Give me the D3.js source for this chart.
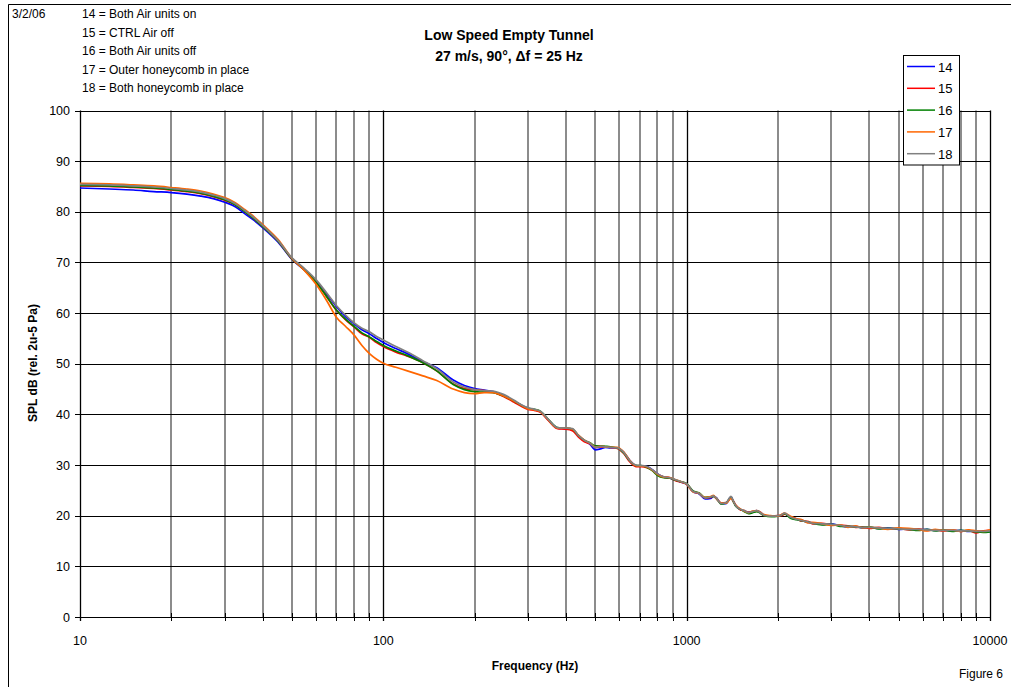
<!DOCTYPE html>
<html><head><meta charset="utf-8">
<script src="https://cdn.jsdelivr.net/npm/d3@7"></script>
<style>body{margin:0;background:#fff}svg{display:block;font-family:Arial,"Liberation Sans",sans-serif}</style>
</head><body><svg id="c" width="1011" height="687"></svg>
<script>
const freq = [10,12.5,15,17.5,20,22.5,25,27.5,30,32.5,35,37.5,40,45,50,55,60,65,70,75,80,85,90,95,100,110,120,135,150,170,185,200,215,230,250,270,285,300,315,330,350,375,400,420,440,460,480,500,520,540,560,590,620,650,680,710,740,770,800,840,880,920,960,1000,1050,1100,1150,1200,1225,1250,1300,1350,1400,1425,1450,1500,1550,1600,1650,1700,1750,1800,1900,2000,2050,2100,2200,2300,2400,2500,2600,2800,3000,3200,3400,3600,3800,4000,4300,4600,5000,5400,5800,6200,6600,7000,7500,8000,8500,9000,9500,10000];
const s14 = [84.7,84.5,84.3,84.0,83.8,83.5,83.1,82.6,81.9,81.0,79.6,78.3,76.9,74.0,70.6,68.5,66.3,63.8,61.3,59.3,57.9,56.7,55.9,55.0,54.2,53.0,52.0,50.4,49.2,46.8,45.7,45.1,44.8,44.5,43.7,42.6,41.8,41.2,40.9,40.5,38.9,37.3,37.2,37.0,35.8,34.8,34.1,33.0,33.2,33.5,33.4,33.4,32.5,30.9,29.9,29.8,29.7,29.1,28.3,27.6,27.4,27.0,26.6,26.2,24.7,24.3,23.3,23.4,23.8,23.6,22.4,22.4,23.7,22.9,22.0,21.3,20.9,20.7,20.8,21.0,20.7,20.1,19.9,19.9,20.1,20.4,19.7,19.3,19.1,18.7,18.6,18.3,18.4,18.0,17.8,17.9,17.6,17.7,17.5,17.6,17.3,17.4,17.2,17.3,17.1,17.2,17.0,17.1,16.9,17.0,16.8,16.9];
const s15 = [85.1,85.0,84.8,84.6,84.3,84.0,83.6,83.0,82.3,81.4,80.0,78.6,77.1,74.2,70.7,68.5,66.1,63.3,60.6,58.7,57.3,55.9,55.2,54.2,53.4,52.3,51.5,50.2,48.6,46.0,45.1,44.9,44.7,44.4,43.5,42.4,41.6,41.0,40.8,40.4,38.8,37.2,37.1,36.8,35.5,34.6,34.2,33.5,33.6,33.6,33.5,33.3,32.3,30.6,29.7,29.7,29.5,29.0,28.2,27.7,27.5,26.9,26.6,26.3,24.8,24.4,23.5,23.6,23.9,23.4,22.5,22.6,23.5,22.8,22.1,21.2,21.0,20.6,20.7,20.9,20.6,20.0,19.9,20.0,20.0,20.3,19.8,19.4,18.9,18.9,18.4,18.5,18.2,18.1,18.0,17.7,17.8,17.5,17.7,17.4,17.5,17.2,17.4,17.1,17.2,17.0,17.2,16.9,17.1,16.6,17.0,17.1];
const s16 = [85.2,85.1,84.9,84.7,84.4,84.1,83.7,83.1,82.4,81.4,80.0,78.6,77.1,74.2,70.7,68.5,66.1,63.3,60.6,58.8,57.4,56.1,55.3,54.4,53.6,52.5,51.6,50.2,48.6,45.9,44.9,44.5,44.4,44.3,43.6,42.6,41.8,41.2,41.0,40.6,39.0,37.4,37.3,37.1,35.8,34.9,34.4,33.8,33.8,33.7,33.6,33.4,32.4,30.8,29.9,29.9,29.5,28.9,28.0,27.5,27.4,27.0,26.7,26.3,24.9,24.5,23.6,23.7,23.8,23.5,22.3,22.5,23.6,22.8,21.9,21.3,20.8,20.4,20.6,20.8,20.5,20.0,19.8,19.9,20.1,20.4,19.5,19.2,19.0,18.8,18.5,18.2,18.3,17.9,17.9,17.8,17.7,17.8,17.4,17.5,17.4,17.3,17.1,17.3,17.0,17.2,16.9,17.1,17.0,16.8,16.7,16.8];
const s17 = [85.6,85.5,85.3,85.1,84.8,84.5,84.1,83.5,82.8,81.8,80.4,79.0,77.5,74.5,70.8,68.4,65.7,62.5,59.2,57.4,55.7,53.6,52.0,50.9,50.1,49.3,48.6,47.6,46.7,45.0,44.3,44.1,44.3,44.3,43.6,42.6,41.8,41.1,40.9,40.5,38.9,37.3,37.3,37.1,35.9,34.9,34.3,33.6,33.7,33.6,33.5,33.5,32.6,30.9,29.9,29.8,29.6,29.0,28.2,27.6,27.5,27.1,26.7,26.2,24.7,24.4,23.6,23.8,24.0,23.5,22.5,22.5,23.4,22.9,22.1,21.4,20.9,20.6,20.9,21.0,20.7,20.2,20.0,19.9,20.2,20.5,19.9,19.4,19.2,18.6,18.7,18.4,18.1,18.2,17.7,18.0,17.6,17.7,17.6,17.3,17.6,17.5,17.3,17.0,17.3,17.1,17.2,16.9,17.2,17.0,16.9,17.2];
const s18 = [85.4,85.3,85.1,84.9,84.6,84.3,83.9,83.3,82.6,81.6,80.2,78.8,77.3,74.3,70.9,68.8,66.6,64.0,61.5,59.6,58.1,57.0,56.3,55.4,54.7,53.4,52.3,50.6,49.0,46.4,45.4,44.9,44.7,44.6,43.9,42.8,41.9,41.3,41.0,40.6,39.0,37.4,37.3,37.2,35.8,34.9,34.3,33.5,33.7,33.6,33.5,33.4,32.5,30.8,30.0,29.9,29.7,29.1,28.3,27.7,27.5,27.1,26.7,26.3,24.8,24.4,23.5,23.7,23.9,23.5,22.4,22.6,23.8,22.9,22.0,21.3,21.0,20.6,20.8,21.0,20.6,20.1,19.9,20.0,20.1,20.5,19.7,19.3,19.0,18.8,18.5,18.4,18.3,18.1,17.9,17.8,17.7,17.7,17.6,17.5,17.4,17.3,17.3,17.2,17.1,17.1,17.1,17.0,17.0,16.9,16.9,17.0];
const seriesNames = ["14","15","16","17","18"];
const seriesValues = [s14,s15,s16,s17,s18];
const seriesColors = ["#0000ff","#ff0000","#008000","#ff6600","#808080"];
const yTicks = [0,10,20,30,40,50,60,70,80,90,100];
const xMajor = [10,100,1000,10000];
const xMinor = [20,30,40,50,60,70,80,90,200,300,400,500,600,700,800,900,2000,3000,4000,5000,6000,7000,8000,9000];
const notes = ["14 = Both Air units on","15 = CTRL Air off","16 = Both Air units off","17 = Outer honeycomb in place","18 = Both honeycomb in place"];
const titleLines = ["Low Speed Empty Tunnel","27 m/s, 90°, Δf = 25 Hz"];

const svg = d3.select("#c");
const x = d3.scaleLog().domain([10,10000]).range([80,990]);
const y = d3.scaleLinear().domain([0,100]).range([617,110.5]);

// outer frame
svg.append("path").attr("d","M8.5,700 V4.5 H1020").attr("fill","none").attr("stroke","#000");

// grid
const g = svg.append("g");
g.selectAll(".vmin").data(xMinor).join("line")
  .attr("x1",d=>Math.round(x(d))).attr("x2",d=>Math.round(x(d)))
  .attr("y1",y(100)).attr("y2",y(0)).attr("stroke","#8c8c8c").attr("stroke-width",2);
g.selectAll(".hmaj").data(yTicks).join("line")
  .attr("x1",75).attr("x2",990).attr("y1",d=>Math.round(y(d))+0.5).attr("y2",d=>Math.round(y(d))+0.5)
  .attr("stroke","#000");
g.selectAll(".vmaj").data(xMajor).join("line")
  .attr("x1",d=>Math.round(x(d))+0.5).attr("x2",d=>Math.round(x(d))+0.5)
  .attr("y1",y(100)).attr("y2",y(0)+4).attr("stroke","#000").attr("stroke-width",1.3);
// x minor tick marks (black) across axis
g.selectAll(".xt").data(xMinor).join("line")
  .attr("x1",d=>Math.round(x(d))+0.5).attr("x2",d=>Math.round(x(d))+0.5)
  .attr("y1",y(0)-4).attr("y2",y(0)+4).attr("stroke","#000");

// y labels
svg.selectAll(".yl").data(yTicks).join("text")
  .attr("x",70).attr("y",d=>y(d)+4.5).attr("text-anchor","end")
  .attr("font-size",12.5).text(d=>d);
// x labels
svg.selectAll(".xl").data(xMajor).join("text")
  .attr("x",d=>x(d)).attr("y",645).attr("text-anchor","middle")
  .attr("font-size",12.5).text(d=>d);

// lines
const line = d3.line().x((d,i)=>x(freq[i])).y(d=>y(d)).curve(d3.curveMonotoneX);
svg.append("g").selectAll("path").data(seriesValues).join("path")
  .attr("d",d=>line(d)).attr("fill","none")
  .attr("stroke",(d,i)=>seriesColors[i]).attr("stroke-width",1.7).attr("stroke-linejoin","round");

// axis titles
svg.append("text").attr("x",535).attr("y",670).attr("text-anchor","middle")
  .attr("font-size",12).attr("font-weight","bold").text("Frequency (Hz)");
svg.append("text").attr("transform","translate(37,363) rotate(-90)").attr("text-anchor","middle")
  .attr("font-size",12).attr("font-weight","bold").text("SPL dB (rel. 2u-5 Pa)");

// title
svg.selectAll(".tt").data(titleLines).join("text")
  .attr("x",509).attr("y",(d,i)=>40+i*21).attr("text-anchor","middle")
  .attr("font-size",14).attr("font-weight","bold").text(d=>d);

// notes
svg.append("text").attr("x",12).attr("y",18).attr("font-size",12).text("3/2/06");
svg.selectAll(".nt").data(notes).join("text")
  .attr("x",82).attr("y",(d,i)=>18+i*18.5).attr("font-size",12).text(d=>d);

svg.append("text").attr("x",1003).attr("y",678).attr("text-anchor","end").attr("font-size",12).text("Figure 6");

// legend
const lg = svg.append("g");
lg.append("rect").attr("x",903.5).attr("y",55.5).attr("width",56).attr("height",109.5)
  .attr("fill","#fff").attr("stroke","#000");
seriesNames.forEach((n,i)=>{
  const yy = 66.5 + i*21.8;
  lg.append("line").attr("x1",907).attr("x2",935).attr("y1",yy).attr("y2",yy)
    .attr("stroke",seriesColors[i]).attr("stroke-width",1.5);
  lg.append("text").attr("x",938).attr("y",yy+5).attr("font-size",13).text(n);
});
</script></body></html>
